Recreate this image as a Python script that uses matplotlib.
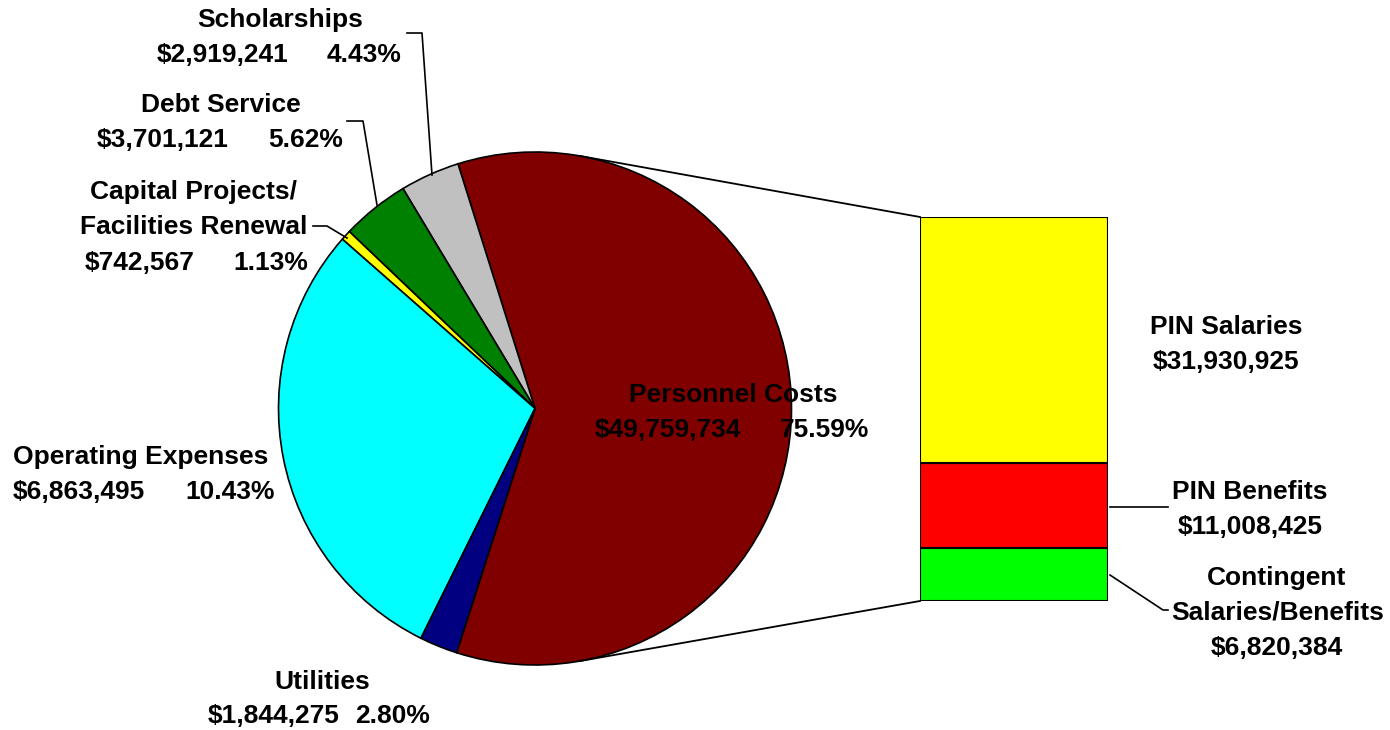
import numpy as np
import matplotlib
matplotlib.use("Agg")
import matplotlib.pyplot as plt

plt.rcParams['font.family'] = ['Liberation Sans', 'DejaVu Sans']

# ---- data ----
pie_names = ["Personnel Costs", "Scholarships", "Debt Service",
             "Capital Projects/\nFacilities Renewal", "Operating Expenses", "Utilities"]
pie_amounts = ["$49,759,734", "$2,919,241", "$3,701,121", "$742,567", "$6,863,495", "$1,844,275"]
pie_pcts = ["75.59%", "4.43%", "5.62%", "1.13%", "10.43%", "2.80%"]
# share of the circle as drawn in the picture (percent)
pie_drawn_share = [59.8, 3.75, 4.28, 0.64, 29.14, 2.39]
pie_colors = ["#800000", "#C0C0C0", "#008000", "#FFFF00", "#00FFFF", "#000080"]

bar_names = ["Contingent\nSalaries/Benefits", "PIN Benefits", "PIN Salaries"]
bar_values = [6820384, 11008425, 31930925]
bar_labels = ["$6,820,384", "$11,008,425", "$31,930,925"]
bar_colors = ["#00FF00", "#FF0000", "#FFFF00"]

W, H = 1390, 730
fig = plt.figure(figsize=(W / 100, H / 100), dpi=100)
fig.patch.set_facecolor("white")
ax = fig.add_axes([0, 0, 1, 1])

def Y(py):
    return H - py

cx, cy, r = 535, 408.5, 256.5
ax.pie(pie_drawn_share, colors=pie_colors, startangle=-107.8, counterclock=True,
       center=(cx, Y(cy)), radius=r,
       wedgeprops=dict(edgecolor="black", linewidth=1.2))
ax.set_xlim(0, W)
ax.set_ylim(0, H)
ax.set_aspect("equal")
ax.axis("off")

# ---- bar of pie ----
bx0, bx1, by_top, by_bot = 920, 1108, 217, 601
bax = fig.add_axes([bx0 / W, (H - by_bot) / H, (bx1 - bx0) / W, (by_bot - by_top) / H])
bottoms = np.concatenate([[0], np.cumsum(bar_values)[:-1]])
bax.bar(0, bar_values, bottom=bottoms, width=1.0, color=bar_colors,
        edgecolor="black", linewidth=1.5)
bax.set_xlim(-0.5, 0.5)
bax.set_ylim(0, sum(bar_values))
bax.axis("off")

# ---- connector lines (tangent to pie) ----
def tangent(px, py, upper):
    dx, dy = px - cx, Y(py) - Y(cy)
    d = np.hypot(dx, dy)
    base = np.arctan2(dy, dx)
    a = np.arccos(r / d)
    ang = base + a if upper else base - a
    return cx + r * np.cos(ang), Y(cy) + r * np.sin(ang)

tx, ty = tangent(bx0, by_top, True)
ax.plot([tx, bx0], [ty, Y(by_top)], color="black", lw=1.3)
tx, ty = tangent(bx0, by_bot, False)
ax.plot([tx, bx0], [ty, Y(by_bot)], color="black", lw=1.3)

# ---- leader lines ----
leaders = [
    [(407, 33), (422, 33), (432, 175)],
    [(347, 121), (363, 121), (377, 205)],
    [(313, 226), (327, 226), (347, 238)],
    [(1110, 507), (1168, 507)],
    [(1110, 575), (1163, 610), (1168, 610)],
]
for pts in leaders:
    xs = [p[0] for p in pts]
    ys = [Y(p[1]) for p in pts]
    ax.plot(xs, ys, color="black", lw=1.2)

fs = 19
tk = dict(fontsize=fs, fontweight="bold", color="black", va="center")

def name(x, y, s):
    ax.text(x, Y(y), s, ha="center", **tk)

def valpct(xv, xp, y, v, p):
    ax.text(xv, Y(y), v, ha="left", **tk)
    ax.text(xp, Y(y), p, ha="left", **tk)

# Scholarships
name(280, 20, pie_names[1])
valpct(157, 327, 55, pie_amounts[1], pie_pcts[1])
# Debt Service
name(221, 105, pie_names[2])
valpct(97, 268, 140, pie_amounts[2], pie_pcts[2])
# Capital
cap_lines = pie_names[3].split("\n")
name(194, 192, cap_lines[0])
name(194, 227, cap_lines[1])
valpct(85, 233, 263, pie_amounts[3], pie_pcts[3])
# Operating
name(141, 457, pie_names[4])
valpct(13, 185, 492, pie_amounts[4], pie_pcts[4])
# Utilities
name(322, 682, pie_names[5])
valpct(208, 355, 716, pie_amounts[5], pie_pcts[5])
# Personnel
name(733, 395, pie_names[0])
valpct(595, 780, 430, pie_amounts[0], pie_pcts[0])
# bar labels
name(1226, 327, bar_names[2])
name(1226, 362, bar_labels[2])
name(1250, 492, bar_names[1])
name(1250, 527, bar_labels[1])
cl = bar_names[0].split("\n")
name(1277, 578, cl[0])
name(1278, 612, cl[1])
name(1277, 648, bar_labels[0])

fig.savefig("out.png", dpi=100, facecolor="white")
